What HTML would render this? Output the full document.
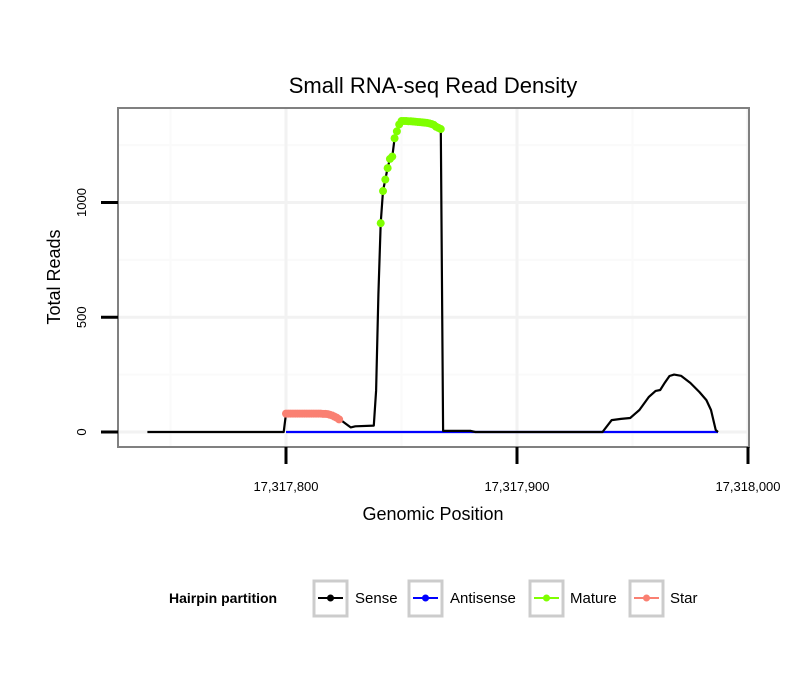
<!DOCTYPE html>
<html><head><meta charset="utf-8"><style>
body{margin:0;background:#fff;}
svg{display:block;font-family:"Liberation Sans",sans-serif;}
</style></head><body>
<svg id="chart" width="810" height="690">
<text x="433" y="93" text-anchor="middle" font-size="22">Small RNA-seq Read Density</text>
<g id="plot"></g>
<text x="433" y="520" text-anchor="middle" font-size="18">Genomic Position</text>
<text x="60" y="277" text-anchor="middle" font-size="18" transform="rotate(-90 60 277)">Total Reads</text>
<g>
<text x="169" y="603" font-size="14" font-weight="bold">Hairpin partition</text>
<g><rect x="314" y="581" width="33" height="35" fill="#fff" stroke="#ccc" stroke-width="3"/><line x1="318" y1="598" x2="343" y2="598" stroke="#000" stroke-width="2"/><circle cx="330.5" cy="598" r="3.5" fill="#000"/><text x="355" y="603" font-size="15">Sense</text></g>
<g><rect x="409" y="581" width="33" height="35" fill="#fff" stroke="#ccc" stroke-width="3"/><line x1="413" y1="598" x2="438" y2="598" stroke="#0000ff" stroke-width="2"/><circle cx="425.5" cy="598" r="3.5" fill="#0000ff"/><text x="450" y="603" font-size="15">Antisense</text></g>
<g><rect x="530" y="581" width="33" height="35" fill="#fff" stroke="#ccc" stroke-width="3"/><line x1="534" y1="598" x2="559" y2="598" stroke="#7fff00" stroke-width="2"/><circle cx="546.5" cy="598" r="3.5" fill="#7fff00"/><text x="570" y="603" font-size="15">Mature</text></g>
<g><rect x="630" y="581" width="33" height="35" fill="#fff" stroke="#ccc" stroke-width="3"/><line x1="634" y1="598" x2="659" y2="598" stroke="#fa8072" stroke-width="2"/><circle cx="646.5" cy="598" r="3.5" fill="#fa8072"/><text x="670" y="603" font-size="15">Star</text></g>
</g>
</svg>
<script>
const xTicks=[17317800,17317900,17318000];
const xTickLabels=["17,317,800","17,317,900","17,318,000"];
const yTicks=[0,500,1000];
const yTickLabels=["0","500","1000"];
const sensePos=[17317740,17317799,17317800,17317815,17317818,17317820,17317822,17317823,17317824,17317826,17317828,17317830,17317838,17317839,17317840,17317841,17317842,17317843,17317844,17317845,17317846,17317847,17317848,17317849,17317850,17317852,17317855,17317858,17317862,17317865,17317867,17317868,17317880,17317882,17317937,17317941,17317945,17317949,17317953,17317957,17317960,17317962,17317964,17317966,17317968,17317971,17317975,17317979,17317982,17317984,17317986,17317987];
const senseVal=[0,0,80,80,78,72,62,55,50,35,20,25,28,180,600,910,1050,1100,1150,1190,1200,1280,1310,1340,1355,1355,1353,1350,1345,1330,1320,5,5,0,0,52,57,61,96,152,179,183,215,244,250,245,214,174,139,96,9,0];
const antiPos=[17317800,17317987];
const antiVal=[0,0];
const maturePos=[17317841,17317842,17317843,17317844,17317845,17317846,17317847,17317848,17317849,17317850,17317851,17317852,17317853,17317854,17317855,17317856,17317857,17317858,17317859,17317860,17317861,17317862,17317863,17317864,17317865,17317866,17317867];
const matureVal=[910,1050,1100,1150,1190,1200,1280,1310,1340,1355,1355,1355,1354,1354,1353,1352,1351,1350,1349,1348,1347,1345,1342,1338,1330,1325,1320];
const starPos=[17317800,17317801,17317802,17317803,17317804,17317805,17317806,17317807,17317808,17317809,17317810,17317811,17317812,17317813,17317814,17317815,17317816,17317817,17317818,17317819,17317820,17317821,17317822,17317823];
const starVal=[80,80,80,80,80,80,80,80,80,80,80,80,80,80,80,80,79,79,78,75,72,67,62,55];
const X=p=>286+(p-17317800)*2.31;
const Y=v=>432-v*0.2295;
const NS="http://www.w3.org/2000/svg";
const g=document.getElementById('plot');
function mk(t,a){const e=document.createElementNS(NS,t);for(const k in a)e.setAttribute(k,a[k]);g.appendChild(e);return e;}
const bg=mk('rect',{x:118,y:108,width:631,height:339,fill:'#fff'});


[17317750,17317850,17317950].forEach(t=>{const l=mk('line',{x1:X(t),x2:X(t),y1:108,y2:447,stroke:'#fafafa','stroke-width':2});});
[250,750,1250].forEach(t=>{const l=mk('line',{x1:118,x2:749,y1:Y(t),y2:Y(t),stroke:'#fafafa','stroke-width':2});});
xTicks.forEach(t=>{const l=mk('line',{x1:X(t),x2:X(t),y1:108,y2:447,stroke:'#f2f2f2','stroke-width':3});});
yTicks.forEach(t=>{const l=mk('line',{x1:118,x2:749,y1:Y(t),y2:Y(t),stroke:'#f2f2f2','stroke-width':3});});
function path(P,V,c,name){const d=P.map((p,i)=>(i?'L':'M')+X(p).toFixed(1)+','+Y(V[i]).toFixed(1)).join('');const e=mk('path',{d:d,fill:'none',stroke:c,'stroke-width':2.2,'stroke-linejoin':'round'});}
path(antiPos,antiVal,'#0000ff','antisense-line');
path(sensePos,senseVal,'#000','sense-line');
starPos.forEach((p,i)=>{const c=mk('circle',{cx:X(p),cy:Y(starVal[i]),r:4,fill:'#fa8072'});});
maturePos.forEach((p,i)=>{const c=mk('circle',{cx:X(p),cy:Y(matureVal[i]),r:4,fill:'#7fff00'});});
const fr=mk('rect',{x:118,y:108,width:631,height:339,fill:'none',stroke:'#808080','stroke-width':2});


xTicks.forEach((t,i)=>{const l=mk('line',{x1:X(t),x2:X(t),y1:447,y2:464,stroke:'#000','stroke-width':3});
const tx=mk('text',{x:X(t),y:491,'text-anchor':'middle','font-size':13});tx.textContent=xTickLabels[i];});
yTicks.forEach((t,i)=>{const l=mk('line',{x1:101,x2:118,y1:Y(t),y2:Y(t),stroke:'#000','stroke-width':3});
const tx=mk('text',{x:86,y:Y(t),'text-anchor':'middle','font-size':13,transform:'rotate(-90 86 '+Y(t)+')'});tx.textContent=yTickLabels[i];});
</script>
</body></html>
